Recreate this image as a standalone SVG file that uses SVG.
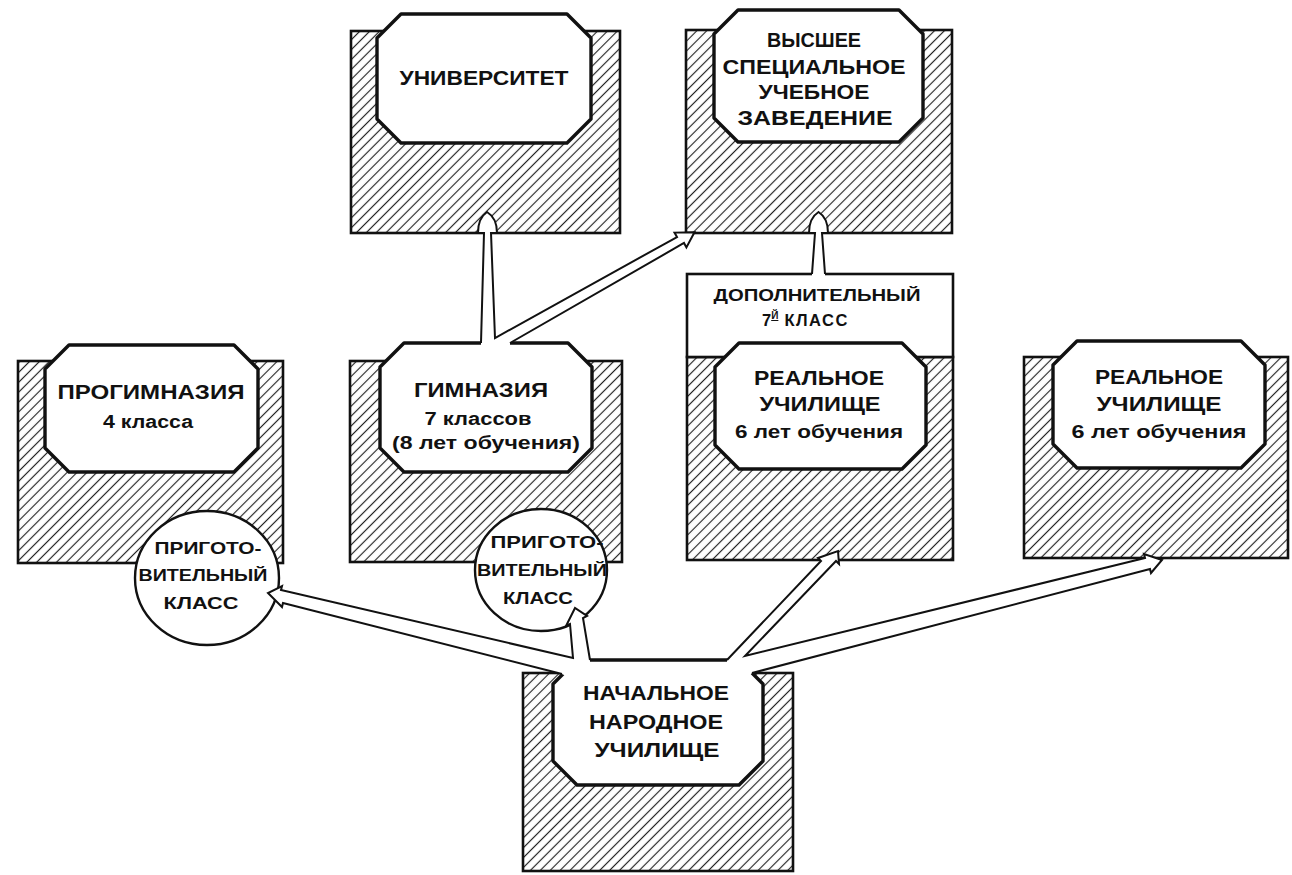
<svg xmlns="http://www.w3.org/2000/svg" width="1292" height="875" viewBox="0 0 1292 875">
<defs>
<pattern id="hatch" patternUnits="userSpaceOnUse" width="7" height="10" patternTransform="rotate(45)">
<line x1="3.5" y1="-1" x2="3.5" y2="11" stroke="#222" stroke-width="1.15"/>
</pattern>
</defs>
<style>
.box{fill:url(#hatch);stroke:#111;stroke-width:2.6}
.plain{fill:#fff;stroke:#111;stroke-width:2.6}
.oct{fill:#fff;stroke:#111;stroke-width:3.4;stroke-linejoin:round}
.circ{fill:#fff;stroke:#111;stroke-width:2.4}
.t{font-family:"Liberation Sans",Arial,sans-serif;font-weight:bold;fill:#111;text-anchor:middle}
.big{font-size:20px}
.mid{font-size:18px}
.sm{font-size:16.5px}
.cf{fill:#fff;stroke:none}
.cl{fill:none;stroke:#111;stroke-width:2;stroke-linejoin:miter}
</style>
<rect width="1292" height="875" fill="#fff"/>

<g id="universitet">
<rect class="box" x="351" y="31" width="269" height="202"/>
<path class="oct" d="M401,14 H567 L591,38 V119 L567,143 H401 L377,119 V38 Z"/>
<text class="t big" x="484" y="85" textLength="169" lengthAdjust="spacingAndGlyphs">УНИВЕРСИТЕТ</text>
</g>

<g id="vysshee">
<rect class="box" x="686" y="30" width="266" height="203"/>
<path class="oct" d="M738,10 H899 L923,34 V118 L899,142 H738 L714,118 V34 Z"/>
<text class="t big" x="814" y="47" textLength="94" lengthAdjust="spacingAndGlyphs">ВЫСШЕЕ</text>
<text class="t big" x="814" y="74" textLength="183" lengthAdjust="spacingAndGlyphs">СПЕЦИАЛЬНОЕ</text>
<text class="t big" x="814" y="99" textLength="111" lengthAdjust="spacingAndGlyphs">УЧЕБНОЕ</text>
<text class="t big" x="815" y="125" textLength="155" lengthAdjust="spacingAndGlyphs">ЗАВЕДЕНИЕ</text>
</g>

<g id="progimnaziya">
<rect class="box" x="18" y="361" width="265" height="202"/>
<path class="oct" d="M69,345 H234 L258,369 V448 L234,472 H69 L45,448 V369 Z"/>
<text class="t big" x="151" y="399" textLength="187" lengthAdjust="spacingAndGlyphs">ПРОГИМНАЗИЯ</text>
<text class="t mid" x="148" y="428" textLength="90" lengthAdjust="spacingAndGlyphs">4 класса</text>
</g>

<g id="gimnaziya">
<rect class="box" x="350" y="361" width="272" height="201"/>
<path class="oct" d="M404,343 H568 L592,367 V448 L568,472 H404 L380,448 V367 Z"/>
<text class="t big" x="481" y="397" textLength="134" lengthAdjust="spacingAndGlyphs">ГИМНАЗИЯ</text>
<text class="t mid" x="478" y="425" textLength="107" lengthAdjust="spacingAndGlyphs">7 классов</text>
<text class="t mid" x="486" y="449" textLength="188" lengthAdjust="spacingAndGlyphs">(8 лет обучения)</text>
</g>

<g id="realnoe1">
<rect class="box" x="687" y="357" width="266" height="203"/>
<rect class="plain" x="687" y="274" width="266" height="83"/>
<path class="oct" d="M739,343 H902 L926,367 V445 L902,469 H739 L715,445 V367 Z"/>
<text class="t sm" x="817" y="301" textLength="207" lengthAdjust="spacingAndGlyphs">ДОПОЛНИТЕЛЬНЫЙ</text>
<text class="t sm" x="762" y="326" style="text-anchor:start">7<tspan font-size="10" dy="-7" text-decoration="underline">Й</tspan><tspan dy="7" letter-spacing="1.5"> КЛАСС</tspan></text>
<text class="t big" x="819" y="385" textLength="130" lengthAdjust="spacingAndGlyphs">РЕАЛЬНОЕ</text>
<text class="t big" x="820" y="411" textLength="121" lengthAdjust="spacingAndGlyphs">УЧИЛИЩЕ</text>
<text class="t mid" x="819" y="438" textLength="168" lengthAdjust="spacingAndGlyphs">6 лет обучения</text>
</g>

<g id="realnoe2">
<rect class="box" x="1024" y="357" width="264" height="201"/>
<path class="oct" d="M1077,341 H1241 L1265,365 V444 L1241,468 H1077 L1053,444 V365 Z"/>
<text class="t big" x="1159" y="384" textLength="128" lengthAdjust="spacingAndGlyphs">РЕАЛЬНОЕ</text>
<text class="t big" x="1159" y="411" textLength="125" lengthAdjust="spacingAndGlyphs">УЧИЛИЩЕ</text>
<text class="t mid" x="1159" y="438" textLength="175" lengthAdjust="spacingAndGlyphs">6 лет обучения</text>
</g>

<g id="nachalnoe">
<rect class="box" x="523" y="673" width="270" height="198"/>
<path class="oct" d="M577,660 H739 L763,684 V761 L739,785 H577 L553,761 V684 Z"/>
<text class="t big" x="656" y="700" textLength="146" lengthAdjust="spacingAndGlyphs">НАЧАЛЬНОЕ</text>
<text class="t big" x="656" y="729" textLength="134" lengthAdjust="spacingAndGlyphs">НАРОДНОЕ</text>
<text class="t big" x="657" y="757" textLength="125" lengthAdjust="spacingAndGlyphs">УЧИЛИЩЕ</text>
</g>

<g id="prigotov1">
<ellipse class="circ" cx="207" cy="578" rx="72" ry="67"/>
<text class="t sm" x="208" y="554" textLength="107" lengthAdjust="spacingAndGlyphs">ПРИГОТО-</text>
<text class="t sm" x="203" y="581" textLength="129" lengthAdjust="spacingAndGlyphs">ВИТЕЛЬНЫЙ</text>
<text class="t sm" x="201" y="609" textLength="75" lengthAdjust="spacingAndGlyphs">КЛАСС</text>
</g>

<g id="prigotov2">
<ellipse class="circ" cx="541" cy="570" rx="66" ry="61"/>
<text class="t sm" x="547" y="548" textLength="113" lengthAdjust="spacingAndGlyphs">ПРИГОТО-</text>
<text class="t sm" x="542" y="576" textLength="130" lengthAdjust="spacingAndGlyphs">ВИТЕЛЬНЫЙ</text>
<text class="t sm" x="538" y="604" textLength="70" lengthAdjust="spacingAndGlyphs">КЛАСС</text>
</g>

<g id="connectors">
<path class="cf" d="M481,343 L484,233 L478,233 Q478,218 487,212 Q497,218 497,233 L491,233 L495,338 L677,237 L674.5,232.6 L694.5,232.2 L686.4,247.4 L684,243 L510,343 L510,350 L481,350 Z"/>
<path class="cl" d="M481,343 L484,233 L478,233 Q478,218 487,212 Q497,218 497,233 L491,233 L495,338 L677,237 L674.5,232.6 L694.5,232.2 L686.4,247.4 L684,243 L510,343"/>

<path class="cf" d="M812,274 L815,233 L809,233 Q809,218 818.5,212 Q828,218 828,233 L822,233 L825,274 L825,280 L812,280 Z"/>
<path class="cl" d="M812,274 L815,233 L809,233 Q809,218 818.5,212 Q828,218 828,233 L822,233 L825,274"/>

<path class="cf" d="M562,674 L283,603 L282,607 L268,593 L282,586 L281,590 L573,658 L570,624 L566,626 L575,608 L587,616 L583,618 L590,660 L590,667 L578,668 L566,676 Z"/>
<path class="cl" d="M562,674 L283,603 L282,607 L268,593 L282,586 L281,590 L573,658 L570,624 L566,626 L575,608 L587,616 L583,618 L590,660"/>

<path class="cf" d="M727,660 L821,561 L818,558 L838,551 L839,564 L836,561 L745,656 L1145,558 L1144,554 L1162,560 L1151,573 L1150,569 L752,673 L748,677 L735,666 L727,666 Z"/>
<path class="cl" d="M727,660 L821,561 L818,558 L838,551 L839,564 L836,561 L745,656 L1145,558 L1144,554 L1162,560 L1151,573 L1150,569 L752,673"/>
</g>
</svg>
